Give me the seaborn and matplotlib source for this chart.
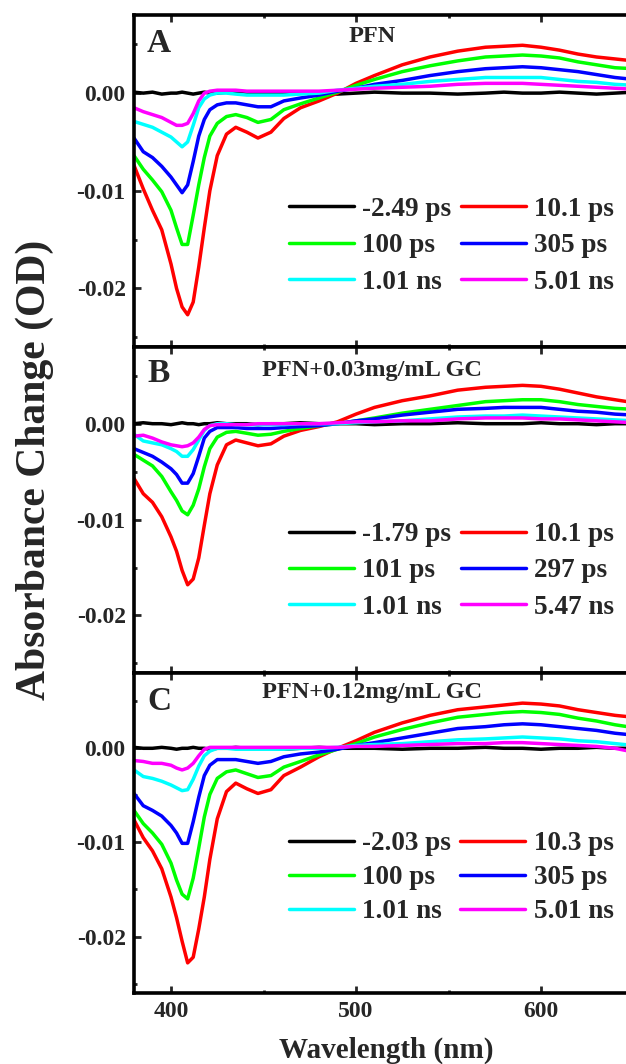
import numpy as np
import pandas as pd
import matplotlib
matplotlib.use("Agg")
import matplotlib.pyplot as plt
import seaborn as sns

# wavelength grid (nm) shared by all curves
wavelength = [380, 385, 390, 395, 400, 403, 406, 409, 412, 415, 418, 421, 425, 430, 435, 441,
              447, 454, 461, 470, 480, 490, 500, 510, 525, 540, 555, 570, 580, 590, 600, 610,
              620, 630, 640, 650]

colors = ["#000000", "#ff0000", "#00ff00", "#0000ff", "#00ffff", "#ff00ff"]

# panel A: PFN
labels_a = ["-2.49 ps", "10.1 ps", "100 ps", "305 ps", "1.01 ns", "5.01 ns"]
a_black = [0.0001, 0.0000, 0.0001, -0.0001, 0.0000, 0.0000, 0.0001, 0.0000, -0.0001, 0.0000, 0.0001, 0.0000,
           0.0000, 0.0001, 0.0000, -0.0001, 0.0000, 0.0000, 0.0001, 0.0000, 0.0000, -0.0001, 0.0000, 0.0001,
           0.0000, 0.0000, -0.0001, 0.0000, 0.0001, 0.0000, 0.0000, 0.0001, 0.0000, -0.0001, 0.0000, 0.0001]
a_red = [-0.0074, -0.0098, -0.0120, -0.0140, -0.0175, -0.0200, -0.0219, -0.0227, -0.0214, -0.0178, -0.0138, -0.0100,
         -0.0064, -0.0042, -0.0035, -0.0040, -0.0046, -0.0040, -0.0026, -0.0015, -0.0008, 0.0000, 0.0010, 0.0018,
         0.0029, 0.0037, 0.0043, 0.0047, 0.0048, 0.0049, 0.0047, 0.0044, 0.0040, 0.0037, 0.0035, 0.0033]
a_green = [-0.0064, -0.0078, -0.0089, -0.0101, -0.0120, -0.0138, -0.0155, -0.0155, -0.0125, -0.0094, -0.0066, -0.0044,
           -0.0031, -0.0024, -0.0022, -0.0025, -0.0030, -0.0027, -0.0017, -0.0011, -0.0005, 0.0001, 0.0008, 0.0014,
           0.0022, 0.0028, 0.0033, 0.0037, 0.0038, 0.0039, 0.0038, 0.0036, 0.0032, 0.0029, 0.0026, 0.0025]
a_blue = [-0.0046, -0.0060, -0.0066, -0.0075, -0.0086, -0.0094, -0.0102, -0.0094, -0.0070, -0.0044, -0.0027, -0.0017,
          -0.0012, -0.0010, -0.0010, -0.0012, -0.0014, -0.0014, -0.0008, -0.0005, -0.0002, 0.0002, 0.0005, 0.0009,
          0.0013, 0.0018, 0.0022, 0.0025, 0.0026, 0.0027, 0.0026, 0.0024, 0.0022, 0.0019, 0.0016, 0.0014]
a_cyan = [-0.0029, -0.0032, -0.0035, -0.0040, -0.0045, -0.0050, -0.0055, -0.0050, -0.0033, -0.0015, -0.0006, -0.0002,
          0.0000, 0.0000, -0.0001, -0.0002, -0.0002, -0.0002, -0.0002, -0.0001, 0.0000, 0.0003, 0.0005, 0.0007,
          0.0009, 0.0012, 0.0014, 0.0016, 0.0016, 0.0016, 0.0016, 0.0014, 0.0012, 0.0011, 0.0009, 0.0008]
a_magenta = [-0.0015, -0.0019, -0.0022, -0.0025, -0.0030, -0.0033, -0.0033, -0.0031, -0.0021, -0.0008, 0.0000, 0.0002,
             0.0003, 0.0003, 0.0003, 0.0002, 0.0002, 0.0002, 0.0002, 0.0002, 0.0002, 0.0003, 0.0004, 0.0005,
             0.0006, 0.0007, 0.0009, 0.0010, 0.0010, 0.0010, 0.0009, 0.0008, 0.0007, 0.0006, 0.0005, 0.0004]

# panel B: PFN+0.03mg/mL GC
labels_b = ["-1.79 ps", "10.1 ps", "101 ps", "297 ps", "1.01 ns", "5.47 ns"]
b_black = [0.0000, 0.0001, 0.0000, 0.0000, -0.0001, 0.0000, 0.0001, 0.0000, 0.0000, -0.0001, 0.0000, 0.0000,
           0.0001, 0.0000, 0.0000, 0.0000, -0.0001, 0.0000, 0.0000, 0.0001, 0.0000, 0.0000, 0.0000, -0.0001,
           0.0000, 0.0000, 0.0001, 0.0000, 0.0000, 0.0000, 0.0001, 0.0000, 0.0000, -0.0001, 0.0000, 0.0000]
b_red = [-0.0057, -0.0073, -0.0082, -0.0097, -0.0118, -0.0133, -0.0153, -0.0168, -0.0162, -0.0140, -0.0106, -0.0073,
         -0.0043, -0.0022, -0.0017, -0.0020, -0.0023, -0.0021, -0.0013, -0.0007, -0.0003, 0.0002, 0.0010, 0.0017,
         0.0024, 0.0029, 0.0035, 0.0038, 0.0039, 0.0040, 0.0039, 0.0036, 0.0032, 0.0028, 0.0025, 0.0022]
b_green = [-0.0032, -0.0038, -0.0044, -0.0055, -0.0071, -0.0080, -0.0091, -0.0095, -0.0085, -0.0068, -0.0045, -0.0026,
           -0.0014, -0.0009, -0.0008, -0.0010, -0.0012, -0.0011, -0.0008, -0.0005, -0.0002, 0.0000, 0.0003, 0.0006,
           0.0011, 0.0015, 0.0019, 0.0023, 0.0024, 0.0025, 0.0025, 0.0023, 0.0020, 0.0018, 0.0016, 0.0015]
b_blue = [-0.0026, -0.0030, -0.0034, -0.0040, -0.0047, -0.0053, -0.0062, -0.0062, -0.0052, -0.0034, -0.0015, -0.0008,
          -0.0004, -0.0004, -0.0004, -0.0005, -0.0005, -0.0005, -0.0004, -0.0003, -0.0002, 0.0000, 0.0003, 0.0005,
          0.0009, 0.0012, 0.0015, 0.0016, 0.0017, 0.0017, 0.0017, 0.0015, 0.0013, 0.0012, 0.0010, 0.0009]
b_cyan = [-0.0011, -0.0018, -0.0020, -0.0022, -0.0026, -0.0029, -0.0034, -0.0034, -0.0027, -0.0017, -0.0007, -0.0002,
          0.0000, 0.0000, -0.0001, -0.0001, -0.0001, -0.0001, -0.0001, 0.0000, 0.0000, 0.0000, 0.0001, 0.0002,
          0.0003, 0.0005, 0.0007, 0.0008, 0.0008, 0.0009, 0.0008, 0.0007, 0.0006, 0.0005, 0.0004, 0.0003]
b_magenta = [-0.0013, -0.0012, -0.0015, -0.0019, -0.0022, -0.0023, -0.0024, -0.0023, -0.0020, -0.0014, -0.0006, -0.0002,
             -0.0001, -0.0001, -0.0001, -0.0001, 0.0000, 0.0000, 0.0000, 0.0000, 0.0000, 0.0001, 0.0002, 0.0002,
             0.0003, 0.0003, 0.0005, 0.0006, 0.0006, 0.0006, 0.0005, 0.0005, 0.0004, 0.0003, 0.0002, 0.0001]

# panel C: PFN+0.12mg/mL GC
labels_c = ["-2.03 ps", "10.3 ps", "100 ps", "305 ps", "1.01 ns", "5.01 ns"]
c_black = [0.0001, 0.0000, 0.0000, 0.0001, 0.0000, -0.0001, 0.0000, 0.0000, 0.0001, 0.0000, 0.0000, -0.0001,
           0.0000, 0.0000, 0.0001, 0.0000, 0.0000, 0.0000, -0.0001, 0.0000, 0.0001, 0.0000, 0.0000, 0.0000,
           -0.0001, 0.0000, 0.0000, 0.0001, 0.0000, 0.0000, -0.0001, 0.0000, 0.0000, 0.0001, 0.0000, 0.0000]
c_red = [-0.0076, -0.0095, -0.0109, -0.0128, -0.0158, -0.0180, -0.0205, -0.0228, -0.0222, -0.0192, -0.0158, -0.0118,
         -0.0075, -0.0046, -0.0037, -0.0043, -0.0048, -0.0044, -0.0029, -0.0020, -0.0009, 0.0000, 0.0008, 0.0017,
         0.0027, 0.0035, 0.0041, 0.0044, 0.0046, 0.0048, 0.0047, 0.0045, 0.0041, 0.0038, 0.0035, 0.0033]
c_green = [-0.0066, -0.0080, -0.0090, -0.0102, -0.0122, -0.0140, -0.0155, -0.0160, -0.0138, -0.0106, -0.0073, -0.0049,
           -0.0032, -0.0025, -0.0023, -0.0027, -0.0031, -0.0029, -0.0020, -0.0014, -0.0007, -0.0001, 0.0005, 0.0012,
           0.0020, 0.0027, 0.0033, 0.0036, 0.0038, 0.0039, 0.0038, 0.0036, 0.0032, 0.0029, 0.0025, 0.0022]
c_blue = [-0.0048, -0.0061, -0.0066, -0.0072, -0.0082, -0.0090, -0.0101, -0.0101, -0.0078, -0.0052, -0.0029, -0.0018,
          -0.0012, -0.0012, -0.0012, -0.0014, -0.0016, -0.0014, -0.0009, -0.0006, -0.0004, -0.0001, 0.0003, 0.0006,
          0.0011, 0.0016, 0.0021, 0.0023, 0.0025, 0.0026, 0.0025, 0.0023, 0.0021, 0.0019, 0.0016, 0.0014]
c_cyan = [-0.0023, -0.0030, -0.0032, -0.0035, -0.0039, -0.0042, -0.0045, -0.0044, -0.0033, -0.0019, -0.0008, -0.0003,
          0.0000, 0.0000, -0.0001, -0.0001, -0.0001, -0.0001, -0.0001, 0.0000, 0.0000, 0.0001, 0.0003, 0.0004,
          0.0005, 0.0007, 0.0009, 0.0010, 0.0011, 0.0012, 0.0011, 0.0010, 0.0008, 0.0007, 0.0005, 0.0003]
c_magenta = [-0.0013, -0.0014, -0.0016, -0.0016, -0.0018, -0.0021, -0.0023, -0.0021, -0.0016, -0.0008, -0.0001, 0.0001,
             0.0001, 0.0001, 0.0001, 0.0001, 0.0001, 0.0001, 0.0001, 0.0001, 0.0001, 0.0001, 0.0002, 0.0002,
             0.0003, 0.0004, 0.0005, 0.0005, 0.0006, 0.0006, 0.0005, 0.0004, 0.0003, 0.0002, 0.0000, -0.0004]

panels = [
    ("A", "PFN", labels_a, [a_black, a_red, a_green, a_blue, a_cyan, a_magenta]),
    ("B", "PFN+0.03mg/mL GC", labels_b, [b_black, b_red, b_green, b_blue, b_cyan, b_magenta]),
    ("C", "PFN+0.12mg/mL GC", labels_c, [c_black, c_red, c_green, c_blue, c_cyan, c_magenta]),
]

sns.set_theme(style="ticks")
plt.rcParams["font.family"] = ["Liberation Serif", "DejaVu Serif"]
plt.rcParams["font.weight"] = "bold"

W, H = 626, 1064
fig = plt.figure(figsize=(W / 100, H / 100), dpi=100)

# axes boxes in pixels (top, bottom)
boxes = [(15, 347), (347, 673), (673, 993)]
ax_left, ax_right = 134, 633.5
letter_y = [0.89, 0.893, 0.884]
title_y = [0.919, 0.911, 0.922]
leg_y = [0.452, 0.463, 0.506]
leg_space = [0.42, 0.42, 0.34]

for i, (letter, title, labels, series) in enumerate(panels):
    top, bot = boxes[i]
    ax = fig.add_axes([ax_left / W, 1 - bot / H, (ax_right - ax_left) / W, (bot - top) / H])
    df = pd.DataFrame({"wl": np.tile(wavelength, 6),
                       "od": np.concatenate(series),
                       "delay": np.repeat(labels, len(wavelength))})
    for lab, col in zip(labels, colors):
        sns.lineplot(data=df[df["delay"] == lab], x="wl", y="od", color=col, lw=2.5,
                     label=lab, ax=ax, legend=False)
    ax.set_xlim(380, 650)
    ax.set_ylim(-0.026, 0.008)
    ax.set_xticks([400, 500, 600])
    ax.set_xticks([450, 550, 650], minor=True)
    ax.set_yticks([0.0, -0.01, -0.02])
    ax.set_yticks([0.005, -0.005, -0.015, -0.025], minor=True)
    ax.set_yticklabels(["0.00", "-0.01", "-0.02"])
    ax.set_xlabel("")
    ax.set_ylabel("")
    for s in ax.spines.values():
        s.set_linewidth(2.6)
        s.set_color("black")
    ax.tick_params(which="both", direction="in", top=True, right=True, width=2, labelsize=17, pad=6)
    ax.tick_params(which="major", length=5)
    ax.tick_params(which="minor", length=2.5)
    if i < 2:
        ax.tick_params(labelbottom=False)
    for t in ax.get_xticklabels() + ax.get_yticklabels():
        t.set_fontweight("bold")
    ax.text(0.026, letter_y[i], letter, transform=ax.transAxes, fontsize=24, fontweight="bold", va="baseline")
    ax.text(0.476, title_y[i], title, transform=ax.transAxes, fontsize=17.5, fontweight="bold",
            ha="center", va="baseline")
    lines = ax.get_lines()
    order = [0, 2, 4, 1, 3, 5]
    ax.legend([lines[k] for k in order], [labels[k] for k in order], ncol=2, frameon=False,
              loc="upper left", bbox_to_anchor=((289 - ax_left) / (ax_right - ax_left), leg_y[i]),
              borderpad=0, borderaxespad=0, handlelength=2.4, handletextpad=0.3,
              columnspacing=0.35, labelspacing=leg_space[i], prop={"weight": "bold", "size": 19.5})

fig.text(35 / W, 1 - 470 / H, "Absorbance Change (OD)", rotation=90, fontsize=30, fontweight="bold",
         ha="center", va="center")
fig.text(386 / W, 1 - 1050 / H, "Wavelength (nm)", fontsize=21, fontweight="bold", ha="center", va="center")

fig.savefig("out.png", dpi=100)
